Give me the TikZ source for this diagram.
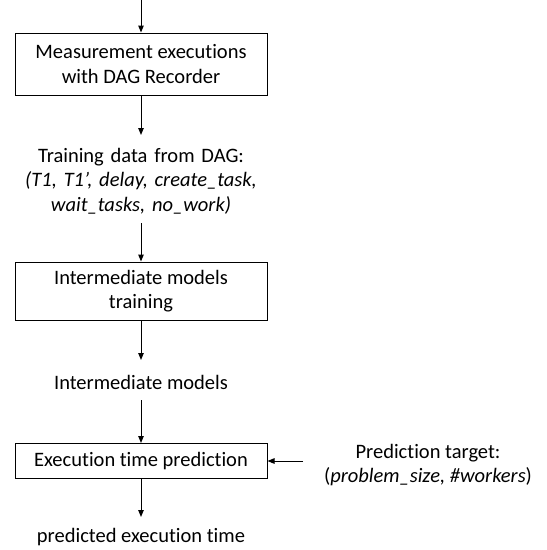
\documentclass[tikz,border=0pt]{standalone}
\usepackage{fontspec}
\setmainfont[Ligatures=NoCommon]{Carlito}
\usetikzlibrary{arrows.meta}
\begin{document}
\begin{tikzpicture}[x=1pt,y=-1pt,
  every node/.style={font=\fontsize{20.5}{24.5}\selectfont, align=center, inner sep=0pt},
  stepbox/.style={draw, line width=1pt},
  flow/.style={-{Triangle[length=7pt,width=5.5pt]}, line width=1pt}]
\useasboundingbox (0,0) rectangle (547,550);
\coordinate (top) at (141,0);
\node[stepbox, minimum width=252pt, minimum height=62pt] (m) at (141,64) {Measurement executions\\with DAG Recorder};
\node[text width=320pt] (td) at (141,181) {Training data from DAG:\\\textit{(T1, T1’, delay, create\_task,}\\\textit{wait\_tasks, no\_work)}};
\node[stepbox, minimum width=252pt, minimum height=58pt] (it) at (141,291) {Intermediate models\\training};
\node (im) at (141,382) {Intermediate models};
\node[stepbox, minimum width=252pt, minimum height=35pt] (ep) at (141,461) {Execution time prediction};
\node (pt) at (428,465) {Prediction target:\\(\textit{problem\_size, \#workers})};
\node (pe) at (141,537) {predicted execution time};
\draw[flow] (top) -- (m.north);
\draw[flow] (m.south) -- (141,135);
\draw[flow] (141,223) -- (it.north);
\draw[flow] (it.south) -- (141,360);
\draw[flow] (141,400) -- (ep.north);
\draw[flow] (303,461) -- (ep.east);
\draw[flow] (ep.south) -- (141,517);
\end{tikzpicture}
\end{document}
